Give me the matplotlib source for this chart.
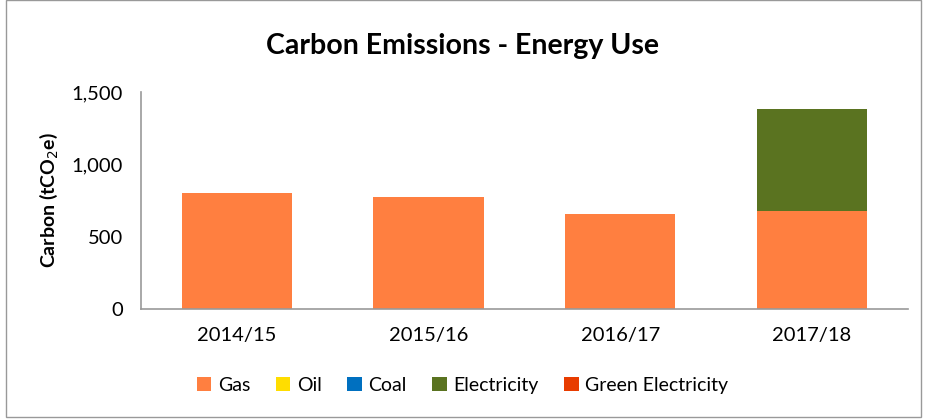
import matplotlib.pyplot as plt
import numpy as np
from matplotlib.patches import Rectangle

plt.rcParams['font.family'] = ['Lato', 'DejaVu Sans']

years = ["2014/15", "2015/16", "2016/17", "2017/18"]
gas = [800, 775, 655, 678]
oil = [0, 0, 0, 0]
coal = [0, 0, 0, 0]
electricity = [0, 0, 0, 705]
green = [0, 0, 0, 0]

series = [("Gas", gas, "#FF7F40"), ("Oil", oil, "#FFDD00"), ("Coal", coal, "#0070C0"),
          ("Electricity", electricity, "#5A7320"), ("Green Electricity", green, "#E83C00")]

fig = plt.figure(figsize=(9.25, 4.19), dpi=100)
ax = fig.add_axes([0.1524, 0.2625, 0.829, 0.518])

x = np.arange(len(years))
bottom = np.zeros(len(years))
for name, vals, col in series:
    ax.bar(x, vals, 0.575, bottom=bottom, color=col, label=name)
    bottom += np.array(vals)

ax.set_xlim(-0.5, len(years) - 0.5)
ax.set_ylim(0, 1500)
ax.set_yticks([0, 500, 1000, 1500])
ax.set_yticklabels(["0", "500", "1,000", "1,500"])
ax.set_xticks(x)
ax.set_xticklabels(years)
ax.tick_params(length=0, labelsize=14.5, pad=13)
for s in ["top", "right"]:
    ax.spines[s].set_visible(False)
for s in ["left", "bottom"]:
    ax.spines[s].set_color("#999999")
    ax.spines[s].set_linewidth(1.2)

ax.set_ylabel("Carbon (tCO$_2$e)", fontsize=14, fontweight="bold", labelpad=8)
fig.text(0.5, 0.89, "Carbon Emissions - Energy Use", ha="center", va="center",
         fontsize=20.5, fontweight="bold")

fig.legend(loc="center", bbox_to_anchor=(0.5, 0.08), ncol=5, frameon=False,
           fontsize=14, handlelength=0.75, handleheight=0.75, columnspacing=1.3,
           handletextpad=0.35)

fig.patches.append(Rectangle((0.006, 0.004), 0.99, 0.995, transform=fig.transFigure,
                             fill=False, edgecolor="#999999", linewidth=1))

fig.savefig("out.png", dpi=100)
